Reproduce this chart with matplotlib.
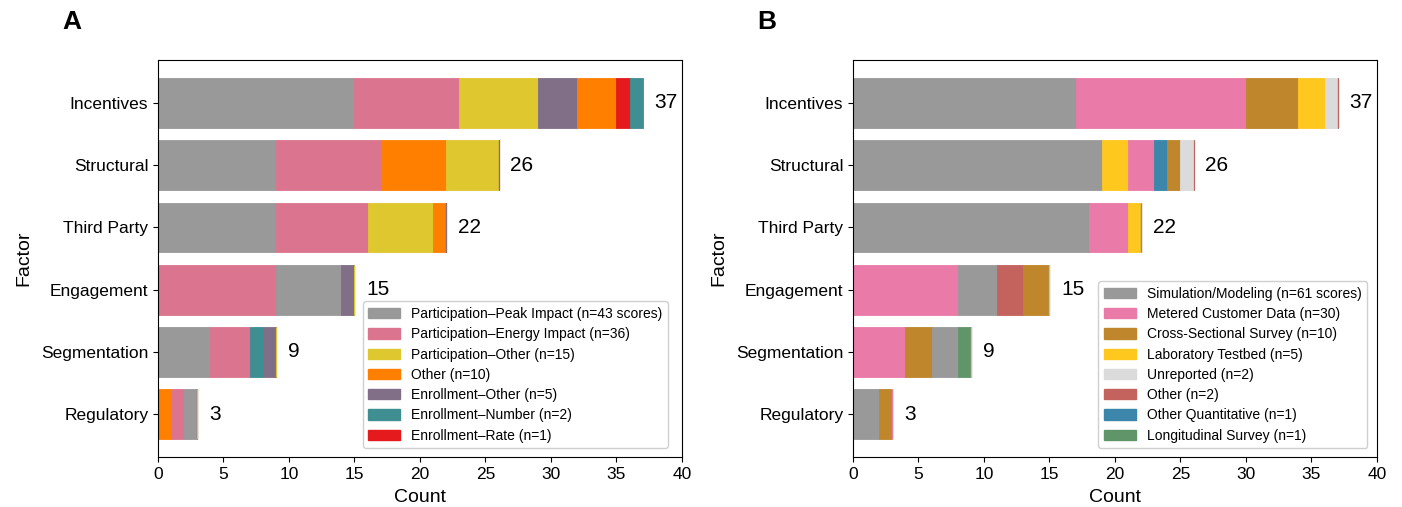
import matplotlib.pyplot as plt

plt.rcParams['font.family'] = ['Liberation Sans', 'DejaVu Sans']

factors = ["Incentives", "Structural", "Third Party", "Engagement", "Segmentation", "Regulatory"]

# panel A: outcome measure
outcome_labels = ["Participation\u2013Peak Impact (n=43 scores)", "Participation\u2013Energy Impact (n=36)",
                  "Participation\u2013Other (n=15)", "Other (n=10)", "Enrollment\u2013Other (n=5)",
                  "Enrollment\u2013Number (n=2)", "Enrollment\u2013Rate (n=1)"]
outcome_colors = ["#999999", "#db748e", "#dfc72f", "#ff7f00", "#806f86", "#3f8e91", "#e41a1c"]
peak_impact = [15, 9, 9, 5, 4, 1]
energy_impact = [8, 8, 7, 9, 3, 1]
part_other = [6, 4, 5, 0, 0, 0]
other_a = [3, 5, 1, 0, 0, 1]
enroll_other = [3, 0, 0, 1, 1, 0]
enroll_number = [1, 0, 0, 0, 1, 0]
enroll_rate = [1, 0, 0, 0, 0, 0]
outcome_counts = [peak_impact, energy_impact, part_other, other_a, enroll_other, enroll_number, enroll_rate]
# stacking order of outcome categories per factor
outcome_order = [[0, 1, 2, 4, 3, 6, 5], [0, 1, 3, 2], [0, 1, 2, 3], [1, 0, 4], [0, 1, 5, 4], [3, 1, 0]]

# panel B: data source
method_labels = ["Simulation/Modeling (n=61 scores)", "Metered Customer Data (n=30)",
                 "Cross-Sectional Survey (n=10)", "Laboratory Testbed (n=5)", "Unreported (n=2)",
                 "Other (n=2)", "Other Quantitative (n=1)", "Longitudinal Survey (n=1)"]
method_colors = ["#999999", "#ea7ba8", "#bf862c", "#fec81f", "#dbdbdb", "#c4625d", "#3b86aa", "#60956a"]
simulation = [17, 19, 18, 3, 2, 2]
metered = [13, 2, 3, 8, 4, 0]
cross_sectional = [4, 1, 0, 2, 2, 1]
lab_testbed = [2, 2, 1, 0, 0, 0]
unreported = [1, 1, 0, 0, 0, 0]
other_b = [0, 0, 0, 2, 0, 0]
other_quant = [0, 1, 0, 0, 0, 0]
longitudinal = [0, 0, 0, 0, 1, 0]
method_counts = [simulation, metered, cross_sectional, lab_testbed, unreported, other_b, other_quant, longitudinal]
method_order = [[0, 1, 2, 3, 4], [0, 3, 1, 6, 2, 4], [0, 1, 3], [1, 0, 5, 2], [1, 2, 0, 7], [0, 2]]


def stacked(ax, counts, order, colors, labels, letter, legend_x):
    n = len(factors)
    ypos = [n - 1 - i for i in range(n)]
    for i, y in enumerate(ypos):
        left = 0
        for c in order[i]:
            v = counts[c][i]
            ax.barh(y, v, left=left, height=0.8, color=colors[c], edgecolor=colors[c], linewidth=0.6)
            left += v
        # empty categories leave a hairline at the end of the bar
        for c in reversed(range(len(counts))):
            if c not in order[i]:
                ax.barh(y, 0, left=left, height=0.8, color=colors[c], edgecolor=colors[c], linewidth=0.8)
        ax.text(left + 0.9, y, str(left), ha="left", va="center", fontsize=15)
    handles = [plt.Rectangle((0, 0), 1, 1, color=col) for col in colors]
    ax.legend(handles, labels, loc="lower right", bbox_to_anchor=(legend_x, 0.005),
              fontsize=10, handlelength=2.3, handleheight=0.75, framealpha=1,
              edgecolor="#d0d0d0", borderpad=0.4, labelspacing=0.45)
    ax.set_yticks(ypos)
    ax.set_yticklabels(factors, fontsize=12.5)
    ax.set_xlim(0, 40)
    ax.set_xticks(range(0, 41, 5))
    ax.tick_params(axis="x", labelsize=12.5)
    ax.set_xlabel("Count", fontsize=14, labelpad=5)
    ax.set_ylabel("Factor", fontsize=14, labelpad=6)
    ax.text(-0.183, 1.125, letter, transform=ax.transAxes, fontsize=19, fontweight="bold", va="top")


fig = plt.figure(figsize=(14.02, 5.07), dpi=100)
ax_a = fig.add_axes([0.1127, 0.0986, 0.3737, 0.783])
ax_b = fig.add_axes([0.6084, 0.0986, 0.3737, 0.783])

stacked(ax_a, outcome_counts, outcome_order, outcome_colors, outcome_labels, "A", 0.987)
stacked(ax_b, method_counts, method_order, method_colors, method_labels, "B", 0.995)

fig.savefig("out.png", dpi=100)
